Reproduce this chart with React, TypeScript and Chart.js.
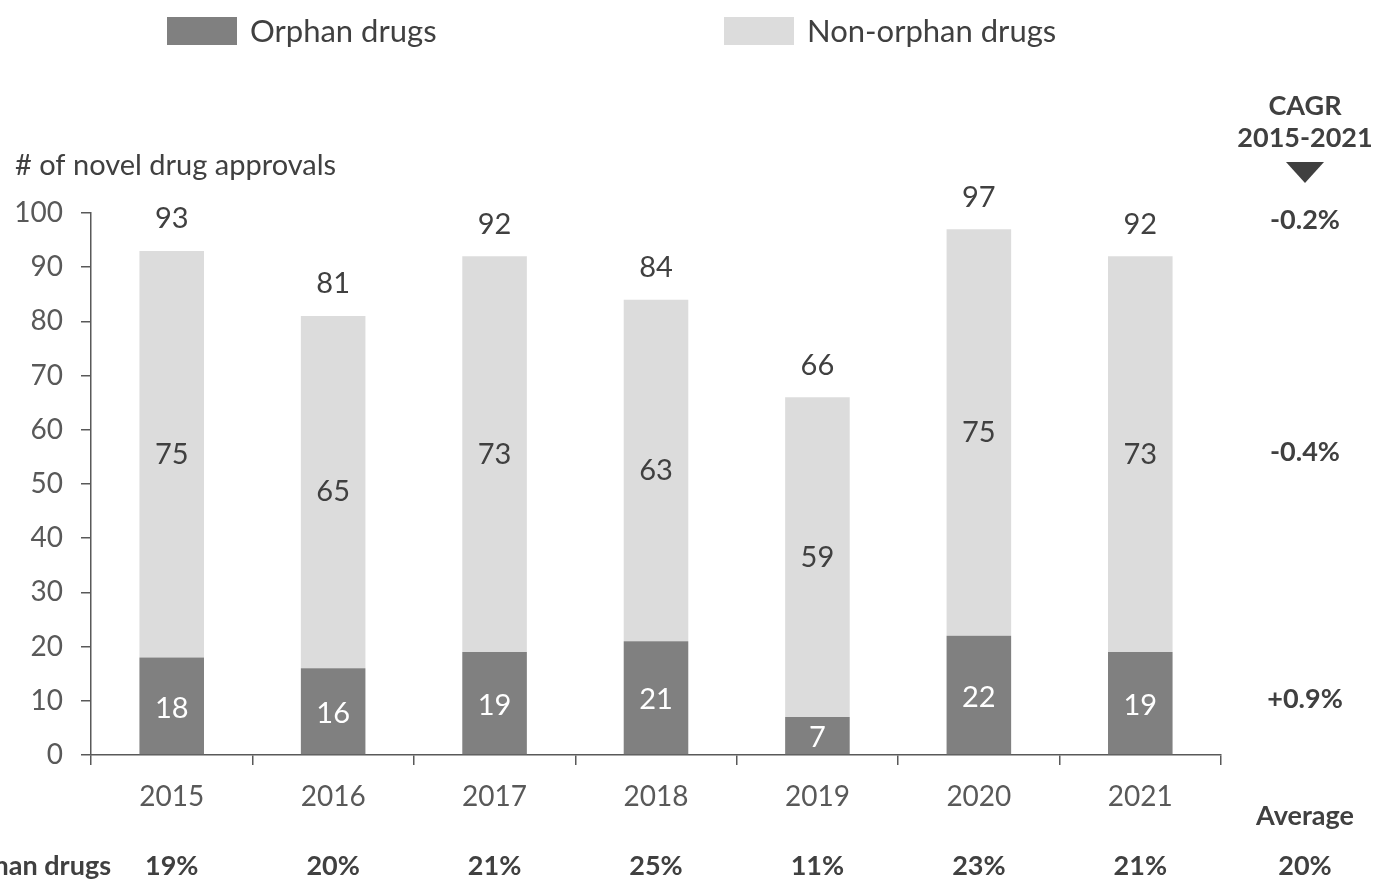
import React, { useEffect, useRef } from "react";
import { Chart, registerables } from "chart.js";

Chart.register(...registerables);

const years = ["2015", "2016", "2017", "2018", "2019", "2020", "2021"];
const orphanDrugs = [18, 16, 19, 21, 7, 22, 19];
const nonOrphanDrugs = [75, 65, 73, 63, 59, 75, 73];
const totals = [93, 81, 92, 84, 66, 97, 92];
const orphanShare = ["19%", "20%", "21%", "25%", "11%", "23%", "21%"];
const averageShare = "20%";
const cagrTotal = "-0.2%";
const cagrNonOrphan = "-0.4%";
const cagrOrphan = "+0.9%";
const yTicks = [0, 10, 20, 30, 40, 50, 60, 70, 80, 90, 100];

const FONT = "Lato, 'Open Sans', sans-serif";
const DARK = "#404040";
const AXIS = "#595959";
const ORPHAN_COLOR = "#808080";
const NON_ORPHAN_COLOR = "#dcdcdc";

const overlay = {
  id: "overlay",
  afterDraw(chart: any) {
    const ctx = chart.ctx as CanvasRenderingContext2D;
    const x = chart.scales.x;
    const y = chart.scales.y;
    ctx.save();
    ctx.textBaseline = "middle";

    // legend
    const legendItems = [
      { label: "Orphan drugs", color: ORPHAN_COLOR, x: 167 },
      { label: "Non-orphan drugs", color: NON_ORPHAN_COLOR, x: 724 },
    ];
    legendItems.forEach((it) => {
      ctx.fillStyle = it.color;
      ctx.fillRect(it.x, 17, 70, 28);
      ctx.fillStyle = DARK;
      ctx.font = `31px ${FONT}`;
      ctx.textAlign = "left";
      ctx.fillText(it.label, it.x + 83, 32);
    });

    // y title
    ctx.fillStyle = DARK;
    ctx.font = `29px ${FONT}`;
    ctx.textAlign = "left";
    ctx.fillText("# of novel drug approvals", 15, 166);

    // data labels
    ctx.textAlign = "center";
    ctx.font = `29px ${FONT}`;
    for (let i = 0; i < years.length; i++) {
      const cx = x.getPixelForValue(i);
      ctx.fillStyle = "#ffffff";
      ctx.fillText(String(orphanDrugs[i]), cx, y.getPixelForValue(orphanDrugs[i] / 2) + 2);
      ctx.fillStyle = DARK;
      ctx.fillText(
        String(nonOrphanDrugs[i]),
        cx,
        y.getPixelForValue(orphanDrugs[i] + nonOrphanDrugs[i] / 2)
      );
      ctx.fillText(String(totals[i]), cx, y.getPixelForValue(totals[i]) - 32);
    }

    // right annotations
    const rx = 1305;
    const last = years.length - 1;
    ctx.font = `bold 27px ${FONT}`;
    ctx.fillStyle = DARK;
    ctx.fillText("CAGR", rx, 106);
    ctx.fillText("2015-2021", rx, 138);
    ctx.beginPath();
    ctx.moveTo(rx - 19, 162);
    ctx.lineTo(rx + 19, 162);
    ctx.lineTo(rx, 183);
    ctx.closePath();
    ctx.fill();
    ctx.fillText(cagrTotal, rx, y.getPixelForValue(totals[last]) - 36);
    ctx.fillText(
      cagrNonOrphan,
      rx,
      y.getPixelForValue(orphanDrugs[last] + nonOrphanDrugs[last] / 2) - 2
    );
    ctx.fillText(cagrOrphan, rx, y.getPixelForValue(orphanDrugs[last] / 2) - 4);

    // bottom row
    ctx.fillText("Average", rx, 816);
    ctx.fillText(averageShare, rx, 866);
    ctx.textAlign = "right";
    ctx.fillText("% orphan drugs", 111, 866);
    ctx.textAlign = "center";
    for (let i = 0; i < years.length; i++) {
      ctx.fillText(orphanShare[i], x.getPixelForValue(i), 866);
    }
    ctx.restore();
  },
};

export default function App() {
  const ref = useRef<HTMLCanvasElement>(null);
  useEffect(() => {
    if (!ref.current) return;
    const chart = new Chart(ref.current, {
      type: "bar",
      data: {
        labels: years,
        datasets: [
          {
            label: "Orphan drugs",
            data: orphanDrugs,
            backgroundColor: ORPHAN_COLOR,
            barPercentage: 0.4,
            categoryPercentage: 1,
          },
          {
            label: "Non-orphan drugs",
            data: nonOrphanDrugs,
            backgroundColor: NON_ORPHAN_COLOR,
            barPercentage: 0.4,
            categoryPercentage: 1,
          },
        ],
      },
      options: {
        responsive: false,
        animation: false,
        layout: { padding: { top: 213, right: 157, left: 0, bottom: 0 } },
        plugins: {
          legend: { display: false },
          tooltip: { enabled: false },
        },
        scales: {
          x: {
            stacked: true,
            grid: {
              offset: true,
              drawOnChartArea: false,
              drawTicks: true,
              tickLength: 10,
              color: AXIS,
              lineWidth: 1.5,
            },
            border: { color: AXIS, width: 1.5 },
            ticks: {
              color: AXIS,
              font: { family: FONT, size: 28 },
              padding: 15,
            },
            afterFit(scale: any) {
              scale.height = 125;
            },
          },
          y: {
            stacked: true,
            min: 0,
            max: 100,
            afterBuildTicks(scale: any) {
              scale.ticks = yTicks.map((v) => ({ value: v }));
            },
            grid: {
              drawOnChartArea: false,
              drawTicks: true,
              tickLength: 10,
              color: AXIS,
              lineWidth: 1.5,
            },
            border: { color: AXIS, width: 1.5 },
            ticks: {
              color: AXIS,
              font: { family: FONT, size: 28 },
              padding: 18,
            },
            afterFit(scale: any) {
              scale.width = 91;
            },
          },
        },
      },
      plugins: [overlay],
    });
    return () => chart.destroy();
  }, []);
  return (
    <div style={{ position: "absolute", left: 0, top: 0, width: 1378, height: 880, background: "#fff" }}>
      <canvas ref={ref} width={1378} height={880} />
    </div>
  );
}
